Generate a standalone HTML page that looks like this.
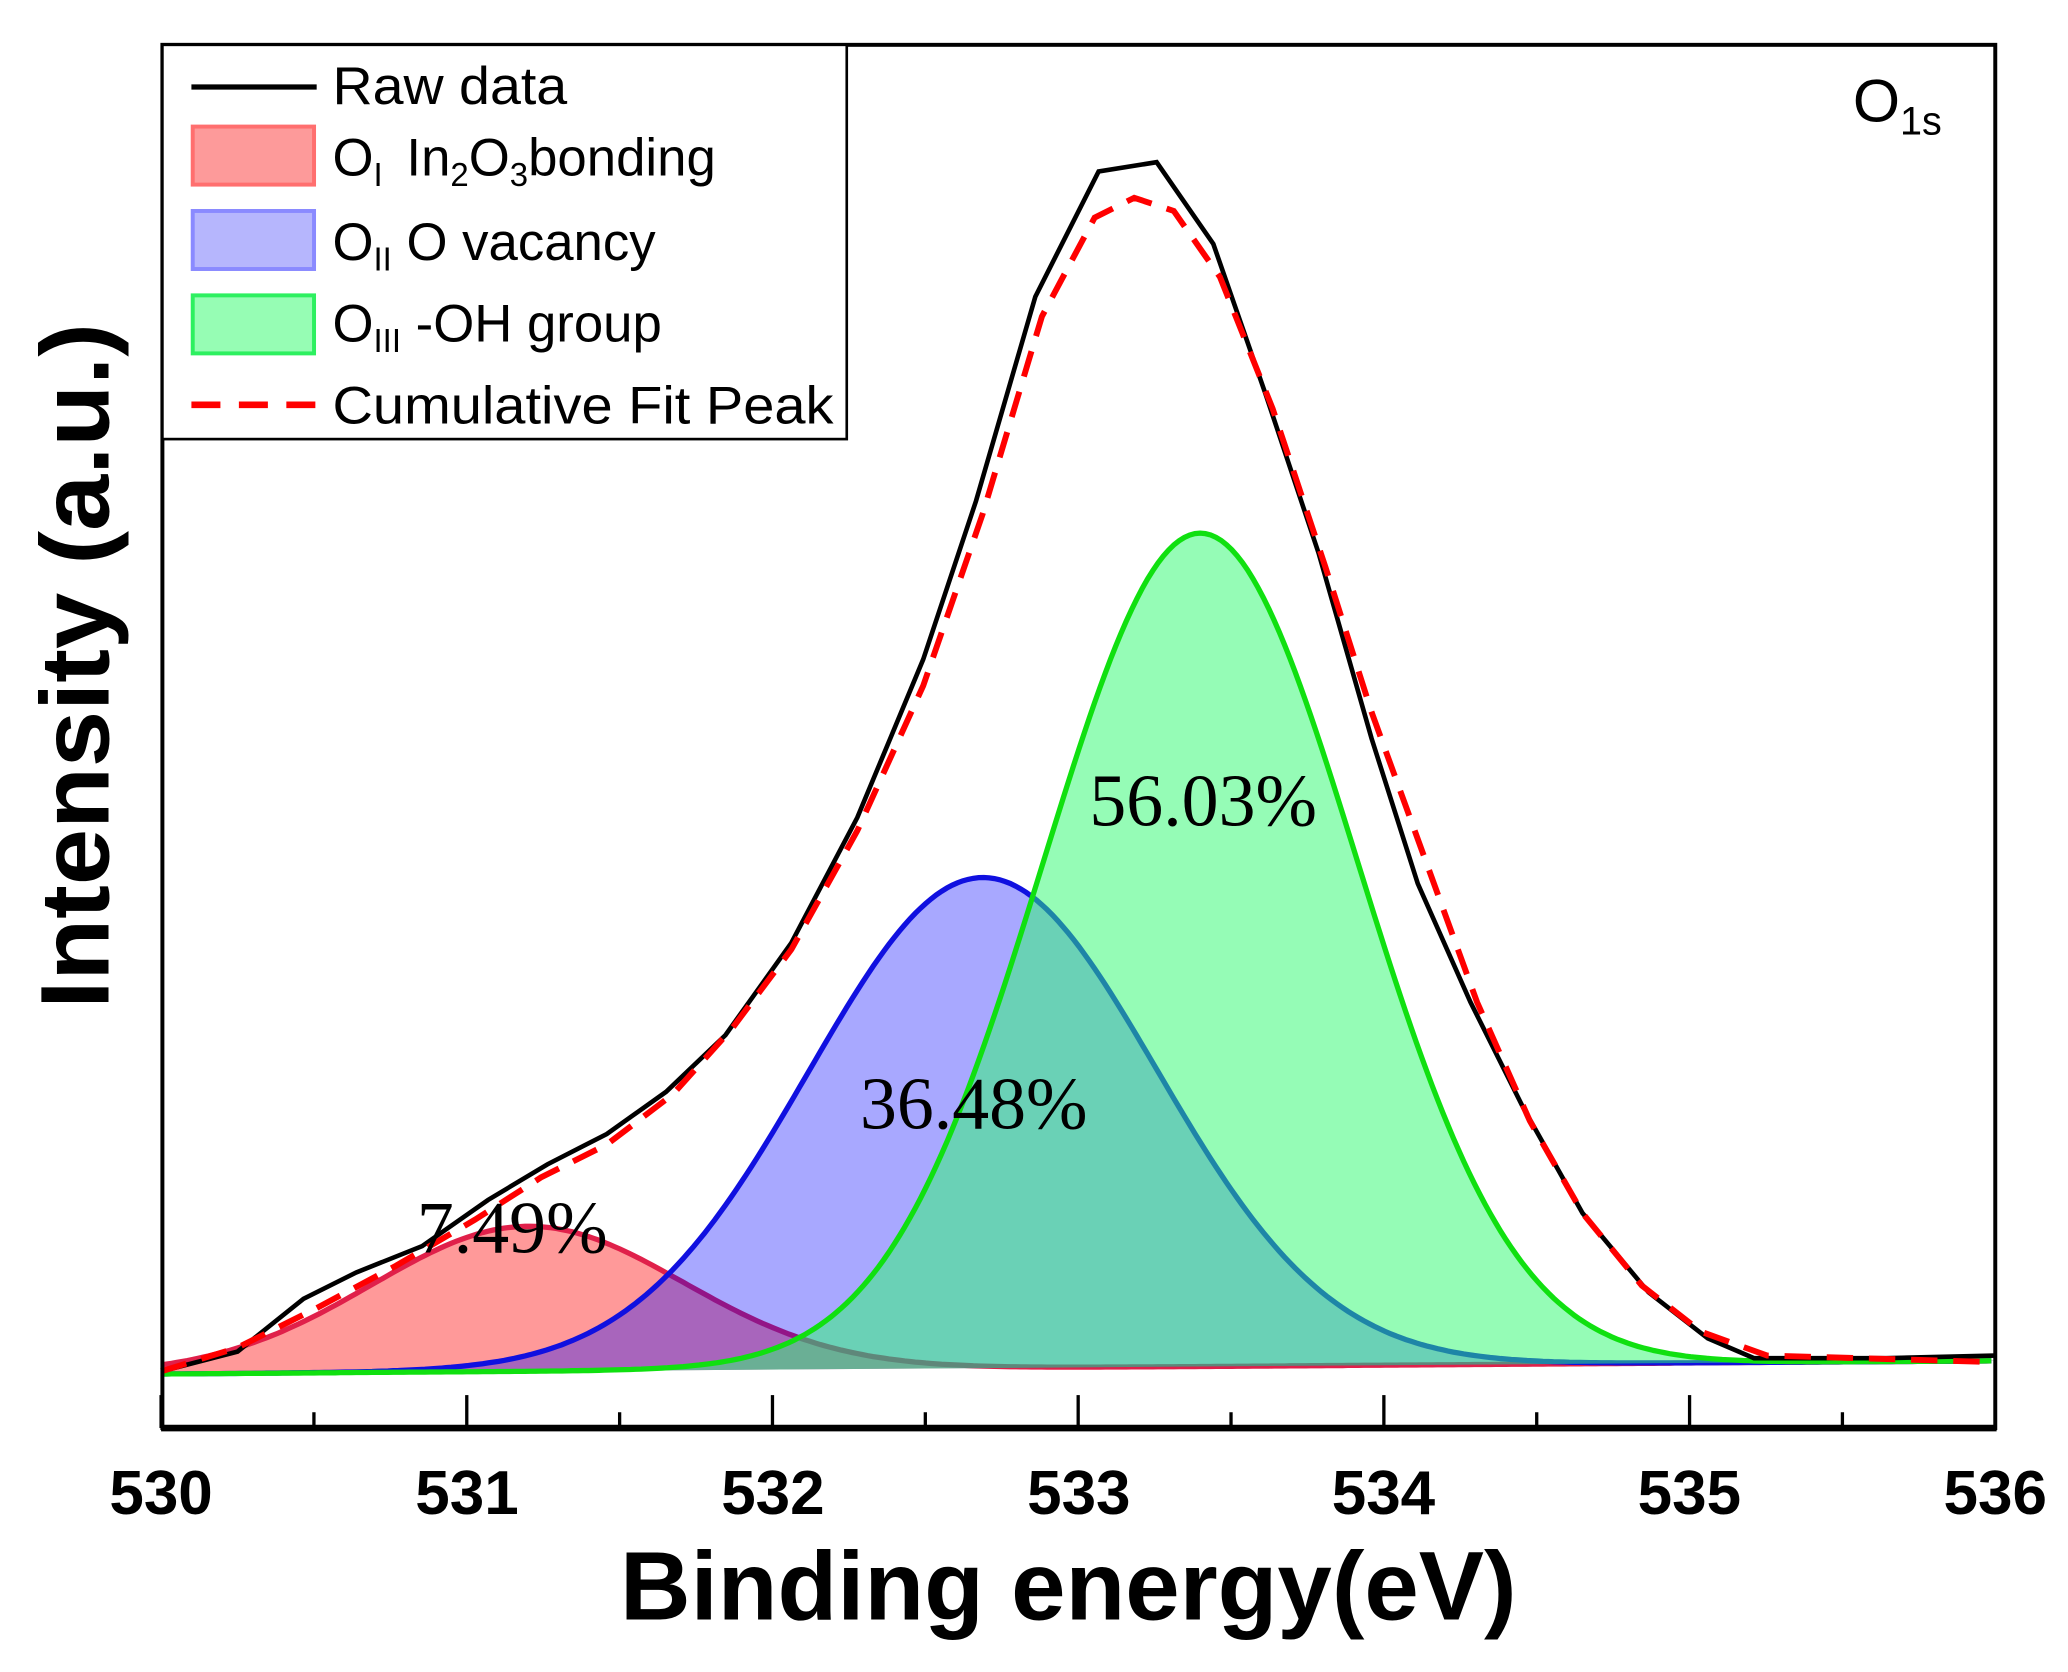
<!DOCTYPE html>
<html><head><meta charset="utf-8"><style>
html,body{margin:0;padding:0;background:#fff;}
svg{display:block;}
text{font-family:"Liberation Sans",Arial,sans-serif;}
text.serif{font-family:"Liberation Serif","Times New Roman",serif;}
</style></head><body>
<svg id="s" width="2068" height="1672" viewBox="0 0 1568 1268" xmlns="http://www.w3.org/2000/svg">
<rect width="1568" height="1268" fill="#fff"/>
<g id="fills"></g>
<polyline fill="none" stroke="#000" stroke-width="3.5" points="122,1040 180,1025 230,985 270,965 320,945 370,910 415,883 460,860 505,828 550,785 600,715 650,620 700,500 740,380 785,225 833,130 877,123 920,185 960,300 1000,420 1040,560 1075,670 1115,760 1155,840 1200,920 1250,980 1295,1015 1330,1030 1430,1030 1513,1028"/>
<polyline fill="none" stroke="#f00" stroke-width="4.5" stroke-dasharray="20,12" points="122,1040 180,1022 240,992 300,960 360,925 410,893 460,868 510,830 555,780 600,720 650,630 700,520 745,390 790,240 830,165 860,150 890,160 925,210 965,310 1005,430 1040,540 1080,650 1120,760 1160,850 1200,920 1245,975 1290,1010 1340,1028 1513,1033"/>
<rect x="123" y="34" width="1390" height="1049" fill="none" stroke="#000" stroke-width="3"/>
<line x1="122" y1="1083" x2="1514" y2="1083" stroke="#000" stroke-width="5"/>
<g id="ticks" stroke="#000" stroke-width="2.5"></g>
<g font-weight="bold" font-size="47" text-anchor="middle">
<text x="122" y="1148">530</text><text x="354" y="1148">531</text><text x="586" y="1148">532</text><text x="818" y="1148">533</text><text x="1049" y="1148">534</text><text x="1281" y="1148">535</text><text x="1513" y="1148">536</text>
</g>
<text x="810" y="1228" font-weight="bold" font-size="74" text-anchor="middle" textLength="680" lengthAdjust="spacingAndGlyphs">Binding energy(eV)</text>
<text transform="translate(82,505) rotate(-90)" font-weight="bold" font-size="74" text-anchor="middle" textLength="520" lengthAdjust="spacingAndGlyphs">Intensity (a.u.)</text>
<rect x="123" y="34" width="519" height="299" fill="#fff" stroke="#000" stroke-width="2"/>
<line x1="145" y1="66" x2="240" y2="66" stroke="#000" stroke-width="4"/>
<rect x="146" y="96" width="92" height="44" fill="#fd9a9a" stroke="#ff6f6f" stroke-width="3"/>
<rect x="146" y="160" width="92" height="44" fill="#b6b6fd" stroke="#8a8aff" stroke-width="3"/>
<rect x="146" y="224" width="92" height="44" fill="#96fdb4" stroke="#2df060" stroke-width="3"/>
<line x1="145" y1="307" x2="240" y2="307" stroke="#f00" stroke-width="5" stroke-dasharray="22,14"/>
<g font-size="40">
<text x="252" y="79" textLength="178" lengthAdjust="spacingAndGlyphs">Raw data</text>
<text x="252" y="133">O<tspan font-size="25" dy="8">I</tspan><tspan dy="-8" dx="18">In</tspan><tspan font-size="25" dy="8">2</tspan><tspan dy="-8">O</tspan><tspan font-size="25" dy="8">3</tspan><tspan dy="-8">bonding</tspan></text>
<text x="252" y="197">O<tspan font-size="25" dy="8">II</tspan><tspan dy="-8"> O vacancy</tspan></text>
<text x="252" y="259">O<tspan font-size="25" dy="8">III</tspan><tspan dy="-8"> -OH group</tspan></text>
<text x="252" y="321" textLength="380" lengthAdjust="spacingAndGlyphs">Cumulative Fit Peak</text>
</g>
<text x="1405" y="92" font-size="46">O<tspan font-size="30" dy="10">1s</tspan></text>
<g font-size="56">
<text class="serif" x="826" y="626">56.03%</text>
<text class="serif" x="652" y="856">36.48%</text>
<text class="serif" x="316" y="950">7.49%</text>
</g>
</svg>
<script>
(function(){
var ns="http://www.w3.org/2000/svg";
function base(x){return 1042-(x-122)*10/1391;}
function peak(c,h,s){var pts=[];for(var x=122;x<=1513;x+=4){var y=base(x)-h*Math.exp(-(x-c)*(x-c)/(2*s*s));pts.push(x+","+y.toFixed(1));}
return pts;}
var F=document.getElementById("fills");
function add(pts,fill,op,stroke){var p=document.createElementNS(ns,"path");
p.setAttribute("d","M"+pts.join(" L")+" L1513,"+base(1513)+" L122,"+base(122)+"Z");
p.setAttribute("fill",fill);p.setAttribute("fill-opacity",op);F.appendChild(p);
var l=document.createElementNS(ns,"polyline");l.setAttribute("points",pts.join(" "));l.setAttribute("fill","none");l.setAttribute("stroke",stroke);l.setAttribute("stroke-width","4");F.appendChild(l);}
add(peak(400,110,118),"#ff0000",0.4,"#e0204a");
add(peak(745,372,132),"#0000ff",0.34,"#1010e0");
add(peak(910,632,119),"#2bfa6e",0.5,"#10e010");
var T=document.getElementById("ticks");
for(var i=0;i<=12;i++){var x=122+i*1391/12;var l=document.createElementNS(ns,"line");
l.setAttribute("x1",x);l.setAttribute("x2",x);l.setAttribute("y1",1083);l.setAttribute("y2",i%2?1071:1058);T.appendChild(l);}
})();
</script>
</body></html>
